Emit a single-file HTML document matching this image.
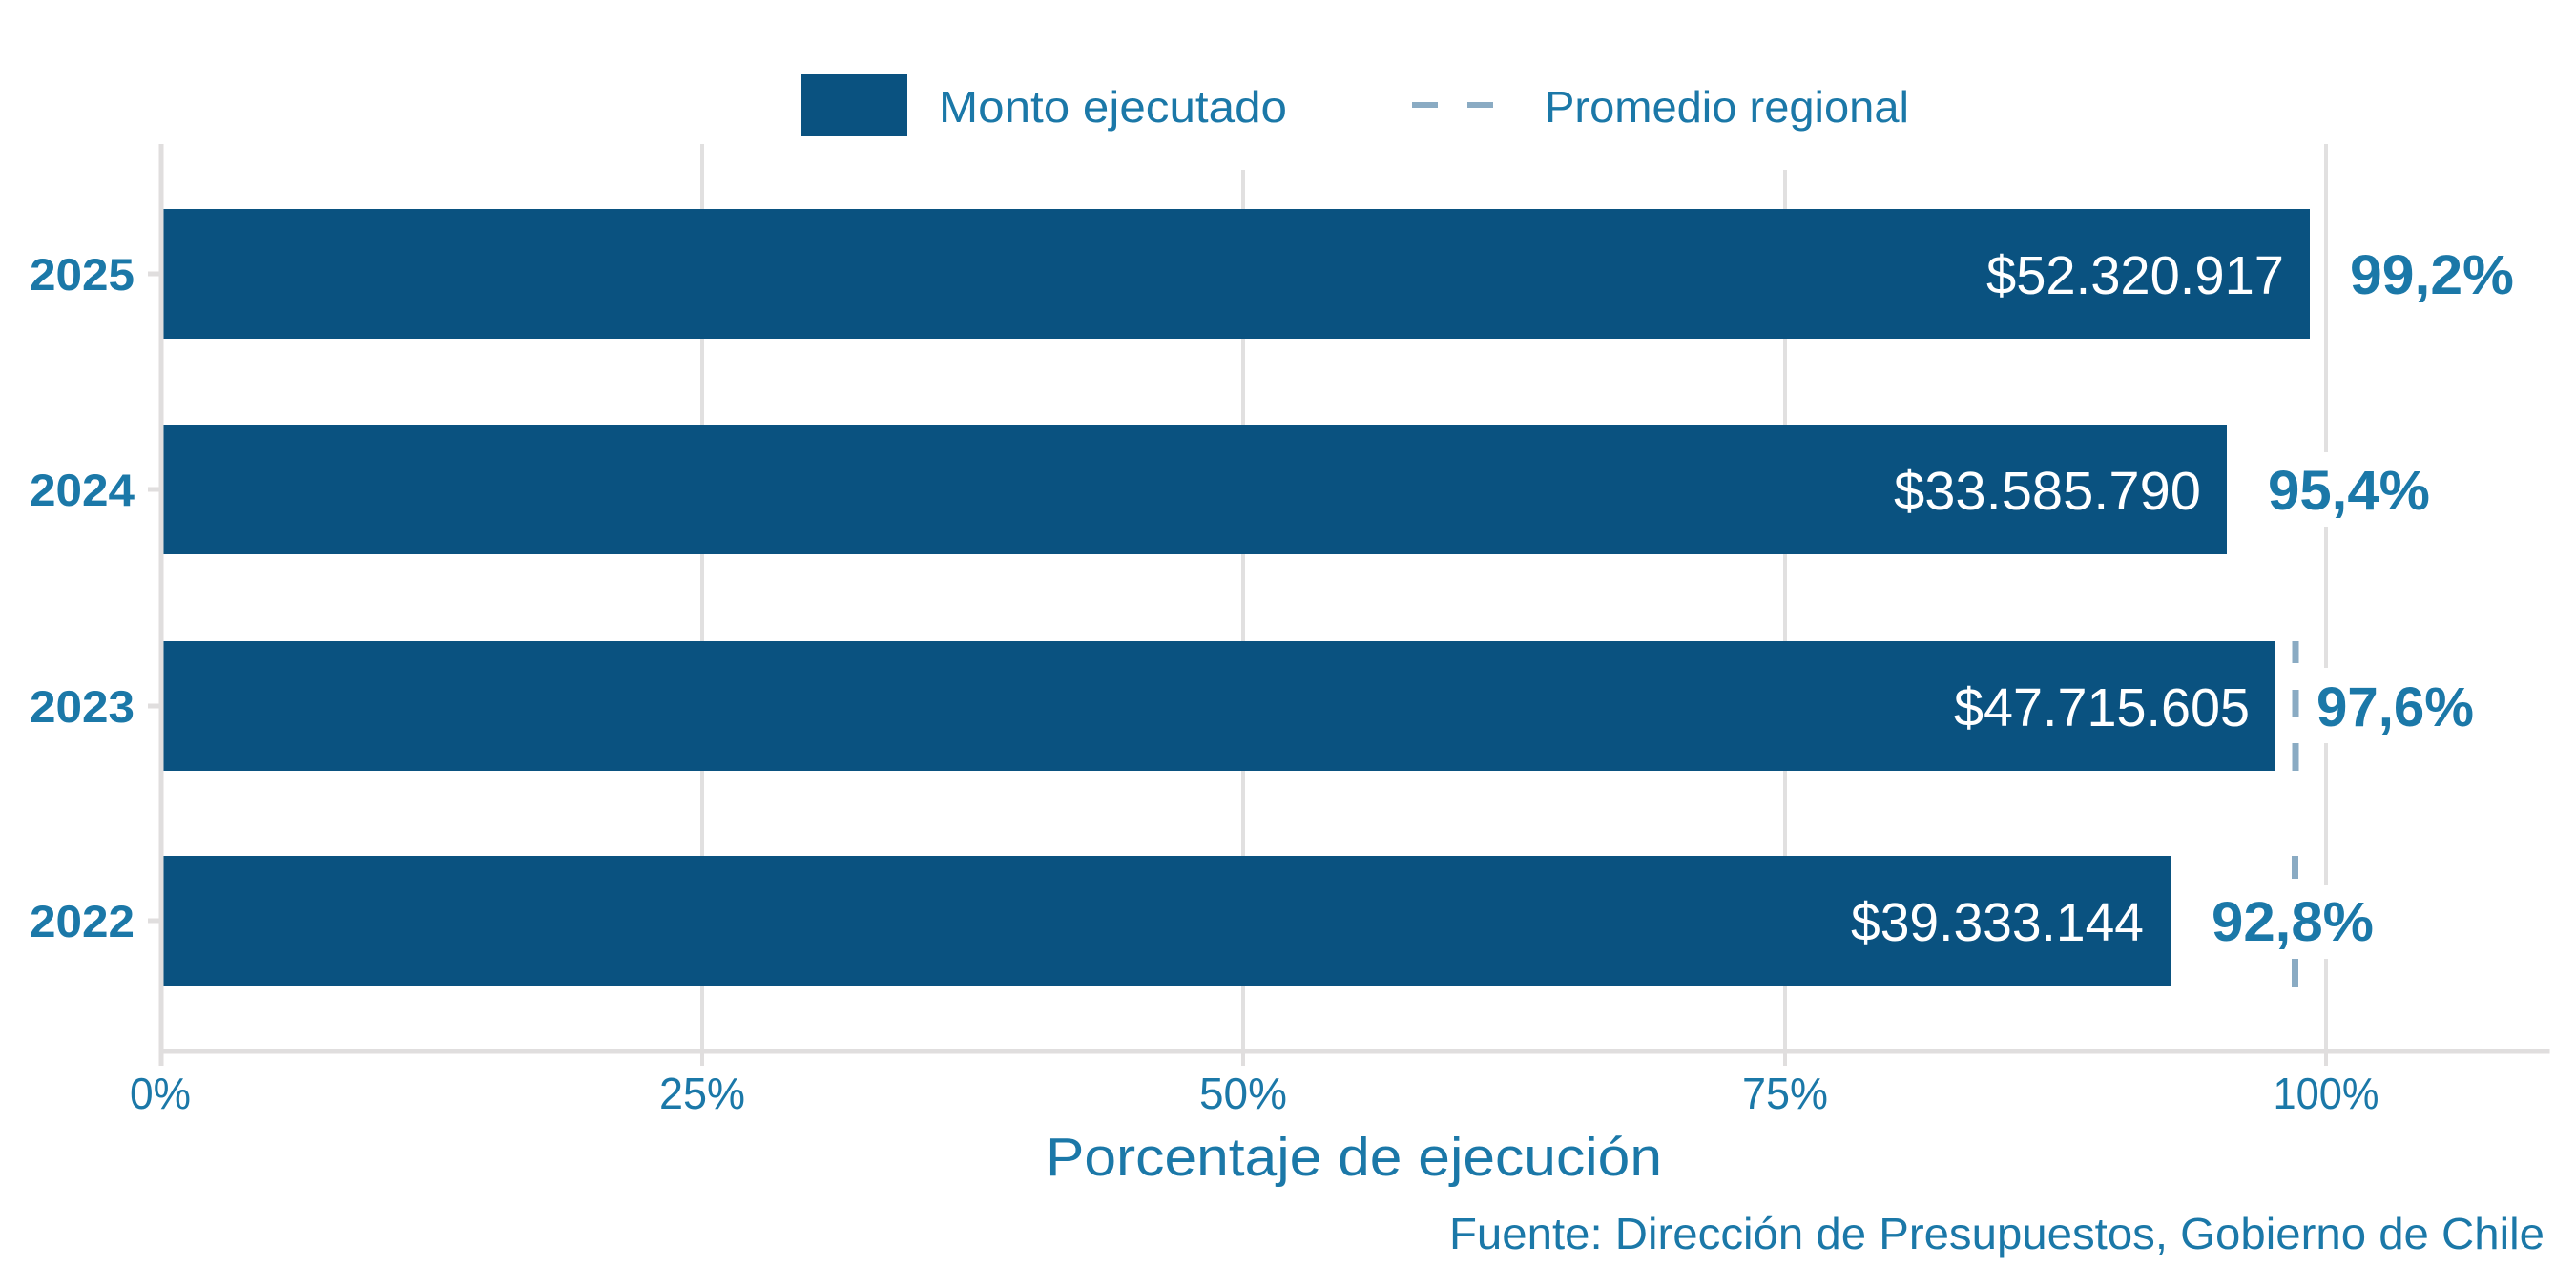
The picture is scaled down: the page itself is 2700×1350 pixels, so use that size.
<!DOCTYPE html>
<html><head><meta charset="utf-8"><style>
html,body{margin:0;padding:0;background:#fff;}
svg{display:block;}
text{font-family:"Liberation Sans",sans-serif;}
</style></head><body>
<svg width="2700" height="1350" viewBox="0 0 2700 1350" xmlns="http://www.w3.org/2000/svg">
<rect width="2700" height="1350" fill="#fff"/>
<!-- gridlines -->
<g fill="#e1e0e0">
<rect x="734" y="151" width="4" height="951"/>
<rect x="1301" y="151" width="4" height="951"/>
<rect x="1869" y="151" width="4" height="951"/>
<rect x="2436" y="151" width="4" height="951"/>
</g>
<!-- legend background -->
<rect x="800" y="30" width="1240" height="148" fill="#fff"/>
<!-- bars -->
<g fill="#0a5280">
<rect x="169" y="219" width="2252" height="136"/>
<rect x="169" y="445" width="2165" height="136"/>
<rect x="169" y="672" width="2216" height="136"/>
<rect x="169" y="897" width="2106" height="136"/>
</g>
<!-- regional average dashes -->
<g fill="#8aabc3">
<rect x="2402.5" y="672" width="7" height="23"/>
<rect x="2402.5" y="723" width="7" height="28"/>
<rect x="2402.5" y="779" width="7" height="29"/>
<rect x="2402" y="897" width="7" height="24"/>
<rect x="2402" y="949" width="7" height="28"/>
<rect x="2402" y="1005" width="7" height="29"/>
</g>
<!-- percent label backgrounds -->
<g fill="#fff">
<rect x="2449" y="248" width="200" height="78"/>
<rect x="2363" y="474" width="198" height="78"/>
<rect x="2414" y="700" width="193" height="79"/>
<rect x="2304" y="928" width="198" height="77"/>
</g>
<!-- axes -->
<g fill="#e0dede">
<rect x="166.5" y="151" width="5" height="953"/>
<rect x="166.5" y="1099.5" width="2506" height="5"/>
<rect x="155" y="284.5" width="12" height="5"/>
<rect x="155" y="510.5" width="12" height="5"/>
<rect x="155" y="737.5" width="12" height="5"/>
<rect x="155" y="962.5" width="12" height="5"/>
<rect x="166.5" y="1102" width="5" height="15"/>
<rect x="734" y="1102" width="4" height="15"/>
<rect x="1301" y="1102" width="4" height="15"/>
<rect x="1869" y="1102" width="4" height="15"/>
<rect x="2436" y="1102" width="4" height="15"/>
</g>
<!-- legend -->
<rect x="840" y="78" width="111" height="65" fill="#0a5280"/>
<text x="984" y="128" font-size="46" fill="#1b78a8" textLength="365" lengthAdjust="spacingAndGlyphs">Monto ejecutado</text>
<rect x="1480" y="107" width="27" height="6" fill="#8aabc3"/>
<rect x="1538" y="107" width="27" height="6" fill="#8aabc3"/>
<text x="1619" y="128" font-size="46" fill="#1b78a8" textLength="382" lengthAdjust="spacingAndGlyphs">Promedio regional</text>
<!-- y labels -->
<g font-size="47" font-weight="bold" fill="#1b78a8" text-anchor="end">
<text x="141" y="304" textLength="110" lengthAdjust="spacingAndGlyphs">2025</text>
<text x="141" y="530" textLength="110" lengthAdjust="spacingAndGlyphs">2024</text>
<text x="141" y="757" textLength="110" lengthAdjust="spacingAndGlyphs">2023</text>
<text x="141" y="982" textLength="110" lengthAdjust="spacingAndGlyphs">2022</text>
</g>
<!-- bar value labels -->
<g font-size="57" fill="#ffffff" text-anchor="end">
<text x="2394" y="308" textLength="312" lengthAdjust="spacingAndGlyphs">$52.320.917</text>
<text x="2307" y="534" textLength="322" lengthAdjust="spacingAndGlyphs">$33.585.790</text>
<text x="2358" y="761" textLength="310" lengthAdjust="spacingAndGlyphs">$47.715.605</text>
<text x="2247" y="986" textLength="307" lengthAdjust="spacingAndGlyphs">$39.333.144</text>
</g>
<!-- percent labels -->
<g font-size="58" font-weight="bold" fill="#1b78a8">
<text x="2463" y="308" textLength="172" lengthAdjust="spacingAndGlyphs">99,2%</text>
<text x="2377" y="534" textLength="170" lengthAdjust="spacingAndGlyphs">95,4%</text>
<text x="2428" y="761" textLength="165" lengthAdjust="spacingAndGlyphs">97,6%</text>
<text x="2318" y="986" textLength="170" lengthAdjust="spacingAndGlyphs">92,8%</text>
</g>
<!-- x tick labels -->
<g font-size="46" fill="#1b78a8" text-anchor="middle">
<text x="168" y="1162" textLength="64" lengthAdjust="spacingAndGlyphs">0%</text>
<text x="736" y="1162" textLength="90" lengthAdjust="spacingAndGlyphs">25%</text>
<text x="1303" y="1162" textLength="92" lengthAdjust="spacingAndGlyphs">50%</text>
<text x="1871" y="1162" textLength="90" lengthAdjust="spacingAndGlyphs">75%</text>
<text x="2438" y="1162" textLength="111" lengthAdjust="spacingAndGlyphs">100%</text>
</g>
<!-- axis title -->
<text x="1419" y="1232" font-size="57" fill="#1b78a8" text-anchor="middle" textLength="646" lengthAdjust="spacingAndGlyphs">Porcentaje de ejecución</text>
<!-- caption -->
<text x="2667" y="1309" font-size="46" fill="#1b78a8" text-anchor="end" textLength="1148" lengthAdjust="spacingAndGlyphs">Fuente: Dirección de Presupuestos, Gobierno de Chile</text>
</svg>
</body></html>
